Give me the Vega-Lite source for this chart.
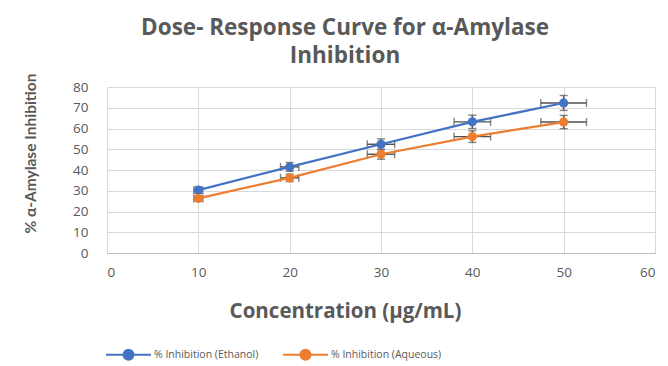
{
  "$schema": "https://vega.github.io/schema/vega-lite/v6.json",
  "width": 548,
  "height": 166,
  "autosize": {"type": "none"},
  "padding": {"left": 107, "top": 87, "right": 13, "bottom": 113},
  "background": "white",
  "title": {
    "text": ["Dose- Response Curve for α-Amylase", "Inhibition"],
    "anchor": "middle",
    "dx": -36,
    "offset": 6,
    "font": "Open Sans",
    "fontSize": 22.5,
    "fontWeight": "bold",
    "color": "#595959",
    "lineHeight": 28
  },
  "data": {
    "values": [
      {"series": "% Inhibition (Ethanol)", "conc": 10, "val": 30.3, "ylo": 28.8, "yhi": 31.8, "xlo": 9.5, "xhi": 10.5},
      {"series": "% Inhibition (Ethanol)", "conc": 20, "val": 41.5, "ylo": 39.4, "yhi": 43.6, "xlo": 19.0, "xhi": 21.0},
      {"series": "% Inhibition (Ethanol)", "conc": 30, "val": 52.4, "ylo": 49.8, "yhi": 55.0, "xlo": 28.5, "xhi": 31.5},
      {"series": "% Inhibition (Ethanol)", "conc": 40, "val": 63.2, "ylo": 60.0, "yhi": 66.4, "xlo": 38.0, "xhi": 42.0},
      {"series": "% Inhibition (Ethanol)", "conc": 50, "val": 72.3, "ylo": 68.7, "yhi": 75.9, "xlo": 47.5, "xhi": 52.5},
      {"series": "% Inhibition (Aqueous)", "conc": 10, "val": 26.3, "ylo": 25.0, "yhi": 27.6, "xlo": 9.5, "xhi": 10.5},
      {"series": "% Inhibition (Aqueous)", "conc": 20, "val": 36.2, "ylo": 34.4, "yhi": 38.0, "xlo": 19.0, "xhi": 21.0},
      {"series": "% Inhibition (Aqueous)", "conc": 30, "val": 47.6, "ylo": 45.2, "yhi": 50.0, "xlo": 28.5, "xhi": 31.5},
      {"series": "% Inhibition (Aqueous)", "conc": 40, "val": 56.1, "ylo": 53.3, "yhi": 58.9, "xlo": 38.0, "xhi": 42.0},
      {"series": "% Inhibition (Aqueous)", "conc": 50, "val": 63.1, "ylo": 59.9, "yhi": 66.3, "xlo": 47.5, "xhi": 52.5}
    ]
  },
  "encoding": {
    "x": {
      "field": "conc", "type": "quantitative",
      "scale": {"domain": [0, 60], "nice": false, "zero": true},
      "axis": {
        "values": [0, 10, 20, 30, 40, 50, 60],
        "title": "Concentration (µg/mL)",
        "titleFont": "Open Sans", "titleFontSize": 20.5, "titleFontWeight": "bold", "titleColor": "#595959",
        "titleX": 238, "titleY": 58, "titleBaseline": "middle", "titleAlign": "center",
        "labelFont": "Open Sans", "labelFontSize": 13.5, "labelColor": "#595959", "labelPadding": 12,
        "ticks": false, "domain": true, "domainColor": "#bfbfbf", "domainWidth": 1,
        "grid": true, "gridColor": "#d9d9d9", "gridWidth": 1
      }
    },
    "y": {
      "field": "val", "type": "quantitative",
      "scale": {"domain": [0, 80], "nice": false},
      "axis": {
        "values": [0, 10, 20, 30, 40, 50, 60, 70, 80],
        "title": "% α-Amylase Inhibition",
        "titleFont": "Lato", "titleFontSize": 15.5, "titleFontWeight": "bold", "titleColor": "#595959",
        "titleX": -77, "titleY": 66, "titleAngle": -90, "titleBaseline": "middle", "titleAlign": "center",
        "labelFont": "Open Sans", "labelFontSize": 13.5, "labelColor": "#595959", "labelPadding": 19,
        "ticks": false, "domain": false,
        "grid": true, "gridColor": "#d9d9d9", "gridWidth": 1
      }
    },
    "color": {
      "field": "series", "type": "nominal",
      "scale": {"domain": ["% Inhibition (Ethanol)", "% Inhibition (Aqueous)"], "range": ["#4472c4", "#ed7d31"]},
      "legend": {
        "title": null,
        "orient": "none",
        "direction": "horizontal",
        "legendX": -2,
        "legendY": 244,
        "symbolType": "M -1 0 L 1 0 M 0.22 0 A 0.22 0.22 0 1 1 -0.22 0 A 0.22 0.22 0 1 1 0.22 0",
        "symbolSize": 2025,
        "symbolStrokeWidth": 2,
        "symbolOpacity": 1,
        "labelFont": "Open Sans", "labelFontSize": 10.5, "labelColor": "#595959",
        "labelOffset": 2,
        "columnPadding": 20,
        "encode": {
          "symbols": {"update": {"stroke": {"scale": "color", "field": "value"}, "fill": {"scale": "color", "field": "value"}}}
        }
      }
    }
  },
  "layer": [
    {
      "mark": {"type": "errorbar", "ticks": {"size": 8}, "color": "#505050", "thickness": 1.4},
      "encoding": {
        "y": {"field": "ylo", "type": "quantitative"},
        "y2": {"field": "yhi"},
        "x": {"field": "conc", "type": "quantitative"},
        "color": {"value": "#505050"},
        "detail": {"field": "series"}
      }
    },
    {
      "mark": {"type": "errorbar", "ticks": {"size": 8}, "color": "#505050", "thickness": 1.4},
      "encoding": {
        "x": {"field": "xlo", "type": "quantitative"},
        "x2": {"field": "xhi"},
        "y": {"field": "val", "type": "quantitative"},
        "color": {"value": "#505050"},
        "detail": {"field": "series"}
      }
    },
    {
      "mark": {"type": "line", "strokeWidth": 2.25},
      "encoding": {
        "order": {"field": "conc"}
      }
    },
    {
      "mark": {"type": "point", "filled": true, "size": 85, "opacity": 1},
      "encoding": {
        "order": {"field": "series", "sort": "descending"}
      }
    }
  ],
  "config": {"view": {"stroke": null}}
}
